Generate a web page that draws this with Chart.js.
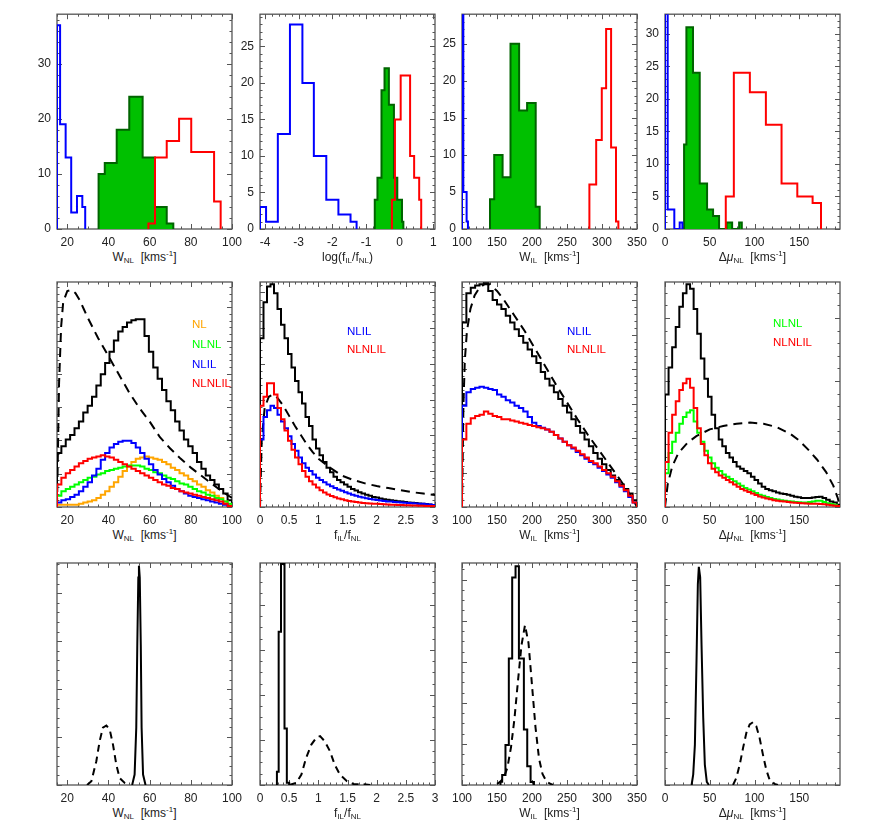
<!DOCTYPE html>
<html>
<head>
<meta charset="utf-8">
<script src="https://cdn.jsdelivr.net/npm/chart.js@4.4.1/dist/chart.umd.min.js"></script>
<style>
  body { margin: 0; background: #fff; width: 872px; height: 830px; position: relative; overflow: hidden;
         font-family: "Liberation Sans", Arial, sans-serif; }
  canvas { position: absolute; }
  .ttl { position: absolute; width: 200px; text-align: center; font-size: 12px; line-height: 14px; color: #222; white-space: nowrap; }
  .sb { font-size: 8px; position: relative; top: 2px; }
  .sp { font-size: 8px; position: relative; top: -5px; }
  .lg { position: absolute; font-size: 11.5px; line-height: 14px; white-space: nowrap; }
</style>
</head>
<body>
<script>
// ---------- top row: sample histograms (bin edges + counts) ----------
const wnlBlueEdges = [15, 16.5, 19.2, 21.9, 24.7, 27.3, 28.7];
const wnlBlueCounts = [37, 19, 13, 3, 6, 4];
const wnlGreenEdges = [35.2, 38.2, 44.0, 50.1, 56.6, 62.6, 68.3, 71.5];
const wnlGreenCounts = [10, 12, 18, 24, 13, 4, 1];
const wnlRedEdges = [59.4, 62.6, 68.3, 74.3, 80.2, 86.0, 91.3, 94.5];
const wnlRedCounts = [1, 13, 16, 20, 14, 14, 5];

const ratioBlueEdges = [-4.15, -3.97, -3.62, -3.26, -2.89, -2.55, -2.18, -1.82, -1.46, -1.28];
const ratioBlueCounts = [3, 1, 13, 28, 20, 10, 4, 2, 1];
const ratioGreenEdges = [-0.74, -0.66, -0.54, -0.45, -0.32, -0.17, -0.07, 0.07, 0.11];
const ratioGreenCounts = [4, 7, 19, 22, 17, 7, 4, 1];
const ratioRedEdges = [-0.23, -0.14, 0.03, 0.31, 0.43, 0.58, 0.64];
const ratioRedCounts = [4, 15, 21, 10, 7, 4];

const wilBlueEdges = [100, 101.9, 106.6, 108.5];
const wilBlueCounts = [40, 5, 1];
const wilGreenEdges = [140, 146, 158, 169.3, 181.6, 193, 205.3, 211];
const wilGreenCounts = [4, 10, 7, 25, 16, 17, 3];
const wilRedEdges = [282, 291.7, 299.7, 305.9, 313, 320, 323.4];
const wilRedCounts = [6, 12, 19, 27, 11, 1];

const dmuBlueEdges = [0, 3, 10.4, 16.4, 19.4];
const dmuBlueCounts = [40, 3, 0, 1];
const dmuGreenEdges = [21.3, 23.9, 31.3, 38.8, 47, 53.7, 60.4, 68.7, 75, 82.8, 85.8];
const dmuGreenCounts = [13, 31, 24, 7, 3, 2, 0, 1, 0, 1];
const dmuRedEdges = [67.9, 76.9, 94.8, 112.7, 130.2, 147.8, 164.9, 174.3];
const dmuRedCounts = [5, 24, 21, 16, 7, 5, 4];

// ---------- middle row: model distributions (arbitrary units, uniform bins) ----------
const wnlBins = { lo: 15, w: 2.125, n: 40 };
const wnlAll = [24,27,30,32,35,38,42,45,49,54,59,64,69,74,78,80,82,83,83.5,83.5,76,69,62,57,52,47,43,38,34,30,27,24,20,17,14,12,10,8,6,3];
const wnlNL = [1,1,1,1,1,1.5,2,2.5,3,4,5.5,7,9,11,13.5,16,18,20,21.5,22,22.5,22,21.5,21,20,19,17.5,16.5,15,14,12.5,11.5,10,9,7.5,6.5,5,4,2.5,1];
const wnlNLNL = [5,7,8,9,10,11,12,13,13.5,14.5,15,16,16.5,17,17.5,18,18.5,18.5,18.5,18,17,16.5,15.5,15,14,13,12.5,11.5,10.5,10,9,8,7,6.5,5.5,5,4,3.5,2.5,1.5];
const wnlNLIL = [2,3,3.5,4.5,5.5,7,9,11,14,17,21,24,26.5,28,29,29.5,29.5,28.5,26.5,24,21.5,19,16.5,14.5,12.5,11,9.5,8,7,6,5,4.5,4,3.5,3,2.5,2,1.5,1,0.5];
const wnlNLNLIL = [10,13,15,16.5,18,19.5,20.5,21.5,22,22.5,23,22.5,22,21,20,19,18,17,16,15,14,13,12,11,10,9.5,8.5,8,7,6.5,6,5.5,5,4.5,4,3.5,3,2.5,1.5,0.5];
const wnlPriorX = [15,16,17,18,20,22,24,26,28,30,35,40,45,50,55,60,65,70,75,80,85,90,95,100];
const wnlPriorY = [0,55,80,91,96,96.5,95,92,88,84,75,67,59,51,44,38,31,26,21.5,17.5,14,10.5,7,4];

const fBins = { lo: 0, w: 0.06, n: 50 };
const fAll = [75,91,98,99,95,88,81,75,68,62,56,51,46,40,36,30,26,23,20,17.5,15.5,13.5,12,11,10,9,8,7.3,6.6,6,5.5,5,4.5,4.2,3.8,3.5,3.2,3,2.8,2.6,2.4,2.2,2,1.9,1.8,1.6,1.5,1.3,1.1,0.8];
const fNLIL = [30,40,43,45,44,41,38,35,31.5,28,25,22,19.5,17.5,16,14.5,13,12,11,10,9.2,8.5,7.8,7.2,6.6,6,5.5,5,4.6,4.2,3.9,3.6,3.3,3.1,2.9,2.7,2.5,2.4,2.2,2.1,2,1.9,1.8,1.7,1.6,1.5,1.4,1.2,1.1,0.9];
const fNLNLIL = [45,49,55,55,50,44,39,34,29.5,25.5,22,19,16,13.5,11.5,10,8.7,7.5,6.5,5.6,4.9,4.3,3.8,3.4,3,2.7,2.4,2.2,2,1.8,1.7,1.6,1.5,1.4,1.3,1.2,1.1,1,1,0.9,0.9,0.8,0.8,0.7,0.7,0.6,0.6,0.5,0.5,0.4];
const fPriorX = [0,0.03,0.08,0.15,0.22,0.3,0.4,0.5,0.6,0.7,0.8,0.9,1.0,1.2,1.4,1.6,1.8,2.0,2.2,2.4,2.6,2.8,3.0];
const fPriorY = [0,30,44,49,50,48.5,45,40.5,36,32,28,24.5,21.5,17.5,14,12,10.5,9.3,8.4,7.5,6.6,6,5.3];

const wilBins = { lo: 100, w: 6.25, n: 40 };
const wilAll = [82,95,97.5,98.5,99,99.5,96,92,90,88,85,82,79,76,73,70,67,64,60,57,54,51,48,45,42,39,36,33,30,27,24,21.5,19,16.5,14,12,10,8,6,3];
const wilNLIL = [45,51,52.5,53,53.5,53,52.5,52,50,49,47.5,46.5,45,44,42.5,40,37.5,36,35.2,34.5,33.5,32,30.5,29,27.5,26,24.5,23,21.5,20,19,17.5,16,14.5,13,11,9,7,4.5,2];
const wilNLNLIL = [30,37,39.5,40.5,41,42.5,41.5,40.5,40,39,39,38.5,38,37.5,37,36.5,36,35.5,35,34.5,33.5,32,30.5,29,27.5,26.5,25,23.5,22,20.5,19.5,18,16.5,15,13.5,11.5,9.5,7.5,5,2];
const wilPriorX = [100,102,104,107,112,118,125,132,140,150,160,175,190,205,220,235,250,265,280,295,310,325,335,345,350];
const wilPriorY = [0,45,65,78,88,94,97.5,99,99,96,92,85,78,70,62,54,46.5,39,32,25.5,19,12.5,8,3,0];

const dmuBins = { lo: 0, w: 4, n: 49 };
const dmuAll = [50,62,71,80,89,95,99,97,88,77,66,57,49,41,35,30,27,24,22,20,18,17,16,15,13.5,12,10.5,9,8,7.5,7,6.5,6,5.8,5.5,5,4.6,4.3,4,4,4,4.2,4.5,4.6,4,3.2,2.5,2,1];
const dmuNLNL = [15,24,29,33,37,40,42,43,38,33,29,25,22,19.5,17.5,16,14.5,13.5,12.5,11.5,10.5,9.5,8.5,7.8,7,6.2,5.5,5,4.5,4,3.6,3.3,3,2.8,2.6,2.4,2.2,2.1,2,2,2.2,2.5,2.8,2.8,2.2,1.7,1.3,1,0.5];
const dmuNLNLIL = [20,33,41,47,52,55,57,53,44,35,28,23,19.5,17,15.5,14,13,12,11,10,9,8,7.3,6.7,6,5.3,4.7,4.2,3.8,3.4,3,2.8,2.6,2.4,2.2,2,1.9,1.8,1.7,1.6,1.5,1.4,1.4,1.3,1.2,1,0.8,0.6,0.4];
const dmuPriorX = [0,3,8,15,25,35,50,65,80,95,110,125,140,150,160,170,180,188,193,195.5];
const dmuPriorY = [0,10,18,24,28.5,31.5,34.5,36,37,37.5,37,35.5,32.5,29.5,25.5,21,15.5,9.5,4,0];

// ---------- bottom row: single-object posteriors ----------
const wnlPostX = [51.5,52.7,53.5,54,54.5,54.8,55.2,55.7,56.1,56.8,58];
const wnlPostY = [0,4.7,25.8,63,93.5,98.8,93.5,63,25.8,4.7,0];
const wnlTrueX = [29.6,31.7,34.1,35.7,37.3,39,40.6,42.2,43.8,45.4,47.9,50.3];
const wnlTrueY = [0,1.7,10.7,19.7,25.8,26.8,25,18.2,9.2,3.2,0.9,0];

const fPostEdges = [0.29,0.32,0.36,0.42,0.46,0.5];
const fPostCounts = [6,69,99.5,25.5,1];
const fTrueX = [0.5,0.62,0.71,0.79,0.88,0.97,1.03,1.11,1.2,1.28,1.37,1.49,1.6,1.77,1.89];
const fTrueY = [0,0.9,4.7,12.2,18.2,21.5,22,19.7,15.2,9.2,4.7,1.7,0.5,0.3,0];

const wilPostEdges = [155,157.4,162.1,166.9,171.7,176.5,181.3,188.4,193.2,198,202.8];
const wilPostCounts = [1.5,4.5,18,57,93.5,98.5,57,25,8.4,1.4];
const wilTrueX = [150,155,160,165,170,175,180,185,190,195,200,205,210,215,220,225,230];
const wilTrueY = [0.5,1.5,3.5,8,17,30,47,63,72,64,45,26,12,5,2,0.7,0];

const dmuPostX = [29.7,31.5,33.4,35.2,36.7,37.8,39.3,40.8,42.7,44.5,46.7,49];
const dmuPostY = [0,4.7,18.2,55.9,90.5,98.3,93.5,63.4,30.3,9.2,1.4,0];
const dmuTrueX = [76,79.7,83.5,87.2,90.9,94.6,98.3,102,105.7,109.4,113.1,116.8,122.4,126.1];
const dmuTrueY = [0,3.2,9.2,16.7,23.5,27.3,28.3,26.5,21.2,13.7,6.9,2.4,0.5,0];

// ---------- helpers ----------
const BLUE = "#0000ff", RED = "#ff0000", GREEN = "#00ff00", ORANGE = "#ffa500", BLACK = "#000000";
const FILL_GREEN = "#00c000", EDGE_GREEN = "#006400";

function edgesOf(b) { return Array.from({ length: b.n + 1 }, (_, i) => b.lo + i * b.w); }
function steps(edges, vals) {
  const pts = [{ x: edges[0], y: 0 }];
  vals.forEach((v, i) => { pts.push({ x: edges[i], y: v }, { x: edges[i + 1], y: v }); });
  pts.push({ x: edges[edges.length - 1], y: 0 });
  return pts;
}
const xy = (xs, ys) => xs.map((x, i) => ({ x, y: ys[i] }));

const line = (data, color, dash) => ({
  data, borderColor: color, borderWidth: 2, borderDash: dash || [], fill: false,
  pointRadius: 0, tension: 0, borderJoinStyle: "miter",
});
const filled = (data) => ({
  data, borderColor: EDGE_GREEN, backgroundColor: FILL_GREEN, borderWidth: 2, fill: "origin",
  pointRadius: 0, tension: 0, borderJoinStyle: "miter",
});

// IDL-like box with inward major/minor ticks on all four sides
const frame = {
  id: "frame",
  beforeDatasetsDraw(chart, _a, o) {
    const { ctx, chartArea: a } = chart;
    const xs = chart.scales.x, ys = chart.scales.y;
    const run = (min, max, major, div, fn) => {
      const minor = major / div;
      for (let k = Math.ceil(min / minor - 1e-6); k * minor <= max + 1e-6; k++) {
        fn(k * minor, k % div === 0 ? 5 : 2.5);
      }
    };
    ctx.save();
    ctx.strokeStyle = "#555";
    ctx.lineWidth = 1;
    ctx.beginPath();
    run(xs.min, xs.max, o.xMajor, o.xDiv, (v, len) => {
      const p = Math.round(xs.getPixelForValue(v)) + 0.5;
      ctx.moveTo(p, a.bottom); ctx.lineTo(p, a.bottom - len);
      ctx.moveTo(p, a.top); ctx.lineTo(p, a.top + len);
    });
    run(ys.min, ys.max, o.yMajor, o.yDiv, (v, len) => {
      const p = Math.round(ys.getPixelForValue(v)) + 0.5;
      ctx.moveTo(a.left, p); ctx.lineTo(a.left + len, p);
      ctx.moveTo(a.right, p); ctx.lineTo(a.right - len, p);
    });
    ctx.stroke();
    ctx.lineWidth = 1.3;
    ctx.strokeRect(a.left, a.top, a.right - a.left, a.bottom - a.top);
    ctx.restore();
  },
};

// ---------- layout ----------
const COLS = [57, 260, 462, 665];
const ROWS = [7, 282, 563];
const ROWH = [222, 225, 222];
const BOXW = 175, PADL = 50, PADT = 6, PADR = 16, XAX = 20;

const titleW = 'W<span class="sb">NL</span>&nbsp; [kms<span class="sp">-1</span>]';
const titleWil = 'W<span class="sb">IL</span>&nbsp; [kms<span class="sp">-1</span>]';
const titleDmu = '&Delta;<i>&mu;</i><span class="sb">NL</span>&nbsp; [kms<span class="sp">-1</span>]';
const titleLog = 'log(f<span class="sb">IL</span>/f<span class="sb">NL</span>)';
const titleF = 'f<span class="sb">IL</span>/f<span class="sb">NL</span>';

const colX = [
  { min: 15, max: 100, ticks: [20, 40, 60, 80, 100], major: 20, div: 4 },
  null,
  { min: 100, max: 350, ticks: [100, 150, 200, 250, 300, 350], major: 50, div: 5 },
  { min: 0, max: 195.5, ticks: [0, 50, 100, 150], major: 50, div: 5 },
];
const fX = { min: 0, max: 3, ticks: [0, 0.5, 1, 1.5, 2, 2.5, 3], major: 0.5, div: 5 };
const logX = { min: -4.15, max: 1.05, ticks: [-4, -3, -2, -1, 0, 1], major: 1, div: 5 };

const panels = [
  // row 1
  { c: 0, r: 0, x: colX[0], y: { max: 39, ticks: [0, 10, 20, 30], major: 10, div: 5 }, title: titleW,
    sets: [line(steps(wnlBlueEdges, wnlBlueCounts), BLUE), line(steps(wnlRedEdges, wnlRedCounts), RED),
           filled(steps(wnlGreenEdges, wnlGreenCounts))] },
  { c: 1, r: 0, x: logX, y: { max: 29.4, ticks: [0, 5, 10, 15, 20, 25], major: 5, div: 5 }, title: titleLog,
    sets: [line(steps(ratioBlueEdges, ratioBlueCounts), BLUE), line(steps(ratioRedEdges, ratioRedCounts), RED),
           filled(steps(ratioGreenEdges, ratioGreenCounts))] },
  { c: 2, r: 0, x: colX[2], y: { max: 29, ticks: [0, 5, 10, 15, 20, 25], major: 5, div: 5 }, title: titleWil,
    sets: [line(steps(wilBlueEdges, wilBlueCounts), BLUE), line(steps(wilRedEdges, wilRedCounts), RED),
           filled(steps(wilGreenEdges, wilGreenCounts))] },
  { c: 3, r: 0, x: colX[3], y: { max: 33, ticks: [0, 5, 10, 15, 20, 25, 30], major: 5, div: 5 }, title: titleDmu,
    sets: [line(steps(dmuBlueEdges, dmuBlueCounts), BLUE), line(steps(dmuRedEdges, dmuRedCounts), RED),
           filled(steps(dmuGreenEdges, dmuGreenCounts))] },
  // row 2
  { c: 0, r: 1, x: colX[0], y: { max: 100, major: 14.8, div: 5 }, title: titleW,
    sets: [line(steps(edgesOf(wnlBins), wnlNLNLIL), RED), line(steps(edgesOf(wnlBins), wnlNLIL), BLUE),
           line(steps(edgesOf(wnlBins), wnlNLNL), GREEN), line(steps(edgesOf(wnlBins), wnlNL), ORANGE),
           line(steps(edgesOf(wnlBins), wnlAll), BLACK), line(xy(wnlPriorX, wnlPriorY), BLACK, [9, 6])],
    legend: [["NL", ORANGE, 192, 324], ["NLNL", GREEN, 192, 344], ["NLIL", BLUE, 192, 364], ["NLNLIL", RED, 192, 383]] },
  { c: 1, r: 1, x: fX, y: { max: 100, major: 15.9, div: 5 }, title: titleF,
    sets: [line(steps(edgesOf(fBins), fNLNLIL), RED), line(steps(edgesOf(fBins), fNLIL), BLUE),
           line(steps(edgesOf(fBins), fAll), BLACK), line(xy(fPriorX, fPriorY), BLACK, [9, 6])],
    legend: [["NLIL", BLUE, 347, 331], ["NLNLIL", RED, 347, 349]] },
  { c: 2, r: 1, x: colX[2], y: { max: 100, major: 15.3, div: 5 }, title: titleWil,
    sets: [line(steps(edgesOf(wilBins), wilNLNLIL), RED), line(steps(edgesOf(wilBins), wilNLIL), BLUE),
           line(steps(edgesOf(wilBins), wilAll), BLACK), line(xy(wilPriorX, wilPriorY), BLACK, [9, 6])],
    legend: [["NLIL", BLUE, 567, 331], ["NLNLIL", RED, 567, 349]] },
  { c: 3, r: 1, x: colX[3], y: { max: 100, major: 28, div: 5 }, title: titleDmu,
    sets: [line(steps(edgesOf(dmuBins), dmuNLNLIL), RED), line(steps(edgesOf(dmuBins), dmuNLNL), GREEN),
           line(steps(edgesOf(dmuBins), dmuAll), BLACK), line(xy(dmuPriorX, dmuPriorY), BLACK, [9, 6])],
    legend: [["NLNL", GREEN, 773, 323], ["NLNLIL", RED, 773, 342]] },
  // row 3
  { c: 0, r: 2, x: colX[0], y: { max: 100, major: 21.6, div: 5 }, title: titleW,
    sets: [line(xy(wnlPostX, wnlPostY), BLACK), line(xy(wnlTrueX, wnlTrueY), BLACK, [7, 5])] },
  { c: 1, r: 2, x: fX, y: { max: 100, major: 20.3, div: 4 }, title: titleF,
    sets: [line(steps(fPostEdges, fPostCounts), BLACK), line(xy(fTrueX, fTrueY), BLACK, [7, 5])] },
  { c: 2, r: 2, x: colX[2], y: { max: 100, major: 18.5, div: 4 }, title: titleWil,
    sets: [line(steps(wilPostEdges, wilPostCounts), BLACK), line(xy(wilTrueX, wilTrueY), BLACK, [7, 5])] },
  { c: 3, r: 2, x: colX[3], y: { max: 100, major: 30, div: 4 }, title: titleDmu,
    sets: [line(xy(dmuPostX, dmuPostY), BLACK), line(xy(dmuTrueX, dmuTrueY), BLACK, [7, 5])] },
];

Chart.defaults.font.family = '"Liberation Sans", Arial, sans-serif';
Chart.defaults.color = "#222";

for (const p of panels) {
  const h = ROWH[p.r];
  const cv = document.createElement("canvas");
  cv.width = PADL + BOXW + PADR;
  cv.height = PADT + h + XAX;
  cv.style.left = COLS[p.c] - PADL + "px";
  cv.style.top = ROWS[p.r] - PADT + "px";
  cv.style.width = cv.width + "px";
  cv.style.height = cv.height + "px";
  document.body.appendChild(cv);

  const yTicks = p.y.ticks || [0];
  new Chart(cv, {
    type: "line",
    data: { datasets: p.sets },
    options: {
      responsive: false, animation: false, events: [],
      layout: { padding: { left: 0, top: PADT, right: PADR, bottom: 0 } },
      plugins: { legend: { display: false }, tooltip: { enabled: false },
                 frame: { xMajor: p.x.major, xDiv: p.x.div, yMajor: p.y.major, yDiv: p.y.div } },
      scales: {
        x: {
          type: "linear", min: p.x.min, max: p.x.max,
          grid: { display: false, drawTicks: false }, border: { display: false },
          ticks: { autoSkip: false, maxRotation: 0, padding: 6, font: { size: 12 }, callback: (v) => String(v) },
          afterBuildTicks: (ax) => { ax.ticks = p.x.ticks.map((v) => ({ value: v })); },
          afterFit: (ax) => { ax.height = XAX; },
        },
        y: {
          type: "linear", min: 0, max: p.y.max,
          grid: { display: false, drawTicks: false }, border: { display: false },
          ticks: { display: !!p.y.ticks, padding: 6, font: { size: 12 }, callback: (v) => String(v) },
          afterBuildTicks: (ax) => { ax.ticks = yTicks.map((v) => ({ value: v })); },
          afterFit: (ax) => { ax.width = PADL; },
        },
      },
    },
    plugins: [frame],
  });

  const t = document.createElement("div");
  t.className = "ttl";
  t.innerHTML = p.title;
  t.style.left = COLS[p.c] + BOXW / 2 - 100 + "px";
  t.style.top = ROWS[p.r] + h + 21 + "px";
  document.body.appendChild(t);

  for (const [txt, col, lx, ly] of p.legend || []) {
    const d = document.createElement("div");
    d.className = "lg";
    d.textContent = txt;
    d.style.color = col;
    d.style.left = lx + "px";
    d.style.top = ly - 7 + "px";
    document.body.appendChild(d);
  }
}
</script>
</body>
</html>
